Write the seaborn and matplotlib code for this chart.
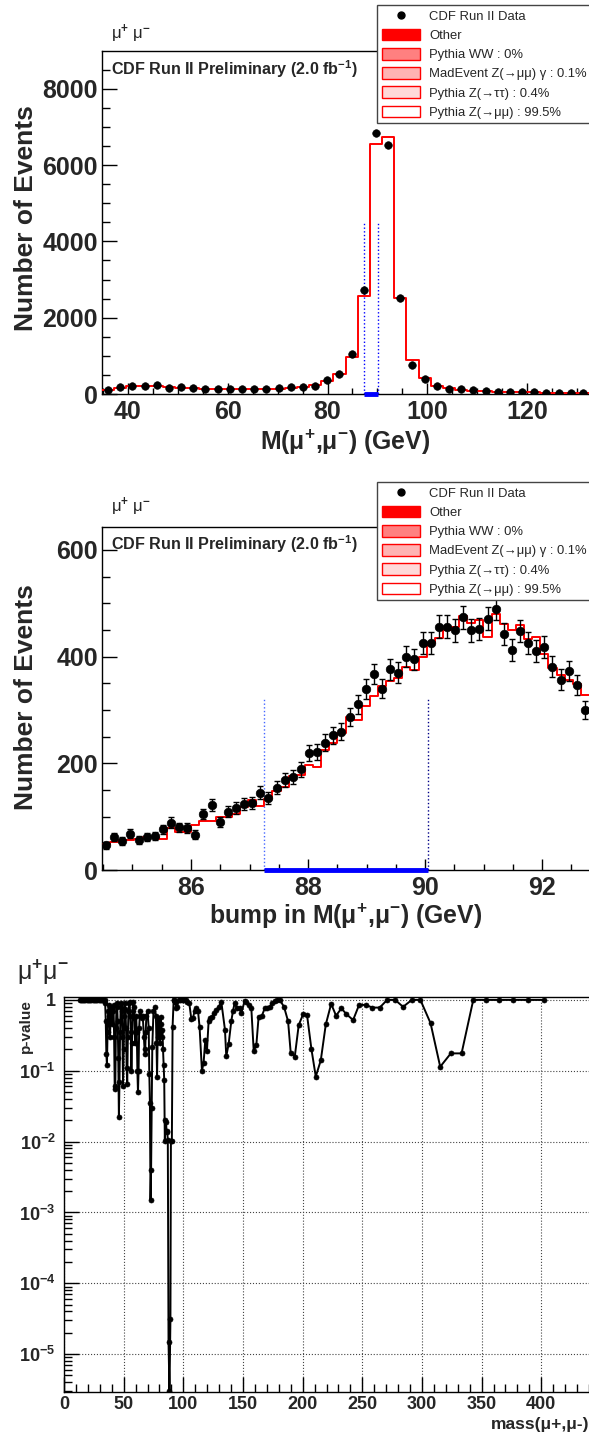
import numpy as np
import pandas as pd
import matplotlib
matplotlib.use("Agg")
import matplotlib.pyplot as plt
import seaborn as sns
from matplotlib.lines import Line2D
from matplotlib.patches import Patch
from matplotlib.ticker import MultipleLocator, FixedLocator, LogLocator, NullFormatter

# ---------------------------------------------------------------- data
# Full dimuon mass spectrum: 40 bins between 34.8 and 132.4 GeV
full_range = (34.8, 132.4)
full_nbins = 40
full_data = [113, 175, 218, 218, 236, 157, 183, 166, 140, 140,
             122, 131, 131, 122, 148, 175, 183, 218, 358, 524,
             1056, 2715, 6853, 6539, 2523, 768, 393, 201, 140, 122,
             96, 70, 61, 52, 44, 44, 35, 35, 26, 26]
full_mc = [100, 170, 200, 205, 200, 180, 170, 155, 140, 130,
           120, 118, 120, 125, 140, 160, 190, 240, 332, 524,
           969, 2575, 6556, 6748, 2505, 882, 419, 210, 150, 115,
           90, 72, 60, 50, 44, 40, 35, 32, 28, 25]

# Fine binning around the Z peak: 60 bins between 84.48 and 92.8 GeV
zoom_range = (84.48, 92.8)
zoom_nbins = 60
zoom_data = [46, 62, 54, 68, 57, 62, 64, 76, 89, 80,
             79, 66, 105, 122, 90, 109, 116, 124, 126, 145,
             135, 154, 168, 175, 189, 219, 221, 239, 253, 259,
             286, 311, 339, 367, 340, 376, 370, 400, 395, 425,
             425, 456, 456, 449, 474, 449, 452, 471, 490, 442,
             412, 448, 426, 411, 418, 381, 357, 373, 347, 300]
zoom_mc = [48.7, 51.9, 55.6, 55.6, 58.7, 61.9, 61.9, 58.1, 79.4, 71.9,
           71.9, 84.3, 91.8, 91.8, 100, 100, 105, 117.4, 131, 120,
           134, 148, 156, 176, 178, 197, 194, 225, 239, 257,
           287, 282, 308, 326, 344, 355, 360, 380, 375, 400,
           426, 434, 450, 455, 477, 463, 468, 437, 479, 462,
           449, 459, 433, 436, 405, 379, 366, 356, 348, 328]

# Mass window of the most significant bump
bump_window = (87.25, 90.05)
bump_marker_height_full = 4500
bump_marker_height_zoom = 320

# Bump-hunter scan: p-value against window centre mass
scan_mass = [13, 14, 15, 16, 17, 18, 19, 20, 21, 22, 23, 24, 25, 26, 27, 28, 29, 30,
             31, 32, 33, 34,
             34.5, 35.0, 35.5, 36.0, 36.5, 37.0, 37.5, 38.0, 38.5, 39.0, 39.5, 40.0,
             40.5, 41.0, 41.5, 42.0, 42.5, 43.0, 43.5, 44.0, 44.5, 45.0, 45.5, 46.0,
             46.5, 47.0, 47.5, 48.0, 48.5, 49.0, 49.5, 50.0, 50.5, 51.0, 51.5, 52.0,
             52.5, 53.0, 53.5, 54.0, 54.5, 55.0, 55.5, 56.0, 56.5, 57.0, 57.5, 58.0,
             58.5, 59.0, 59.5, 60.0, 60.5, 61.0, 61.5, 62.0, 62.5, 63.0, 63.5, 64.0,
             65.0, 66.0, 67.0, 67.5, 68.0, 68.5, 69.0, 70.0, 71.0, 71.5, 72.0, 72.5,
             73.0, 73.5, 74.0, 75.0, 76.0, 77.0, 77.5, 78.0, 78.5, 79.0, 80.0, 80.5,
             81.0, 81.5, 82.0, 82.5, 83.0, 83.5, 84.0, 84.5, 85.0, 85.5, 86.0, 86.5,
             87.0, 87.6, 88.4, 89.2, 89.6, 90.4, 91.0, 91.9,
             92.5, 93.3, 94.0, 95.0, 96.0, 97.5, 99.0, 100.5, 102.0, 103.5, 105.0,
             106.7, 108.0, 109.5, 110.9, 112.3, 113.6, 115.6, 117.0, 118.4, 119.8,
             121.2, 122.6, 124.0, 125.8, 127.6, 129.7, 131.8, 134.9, 136.0, 138.0,
             140.2, 141.6, 143.0, 145.0, 147.2, 148.6, 151.4, 152.8, 155.0, 157.0,
             159.0, 161.2, 163.1, 165.9, 168.2, 170.3, 172.4, 174.5, 176.6, 178.7,
             180.8, 184.4, 187.8, 190.0, 193.4, 196.7, 200.4, 203.7, 207.4, 211.0,
             215.2, 219.4, 223.9, 228.0, 232.5, 236.7, 242.3, 247.3, 252.9, 258.5,
             264.6, 270.8, 277.5, 284.2, 291.5, 298.7, 307.2, 315.3, 324.2, 333.2,
             343.0, 353.6, 364.5, 376.5, 388.8, 402.2]
scan_pvalue = [1, 1, 1, 1, 1, 1, 1, 1, 1, 1, 1, 1, 1, 1, 1, 1, 1, 1,
               1, 1, 1, 1,
               0.9, 0.5, 0.17, 0.12, 0.35, 0.7, 0.85, 0.6, 0.3, 0.5, 0.8, 0.75,
               0.45, 0.7, 0.85, 0.3, 0.056, 0.06, 0.4, 0.8, 0.9, 0.5, 0.15, 0.022,
               0.07, 0.35, 0.8, 0.9, 0.7, 0.3, 0.06, 0.2, 0.6, 0.9, 0.75, 0.4,
               0.11, 0.065, 0.3, 0.7, 0.9, 0.95, 0.6, 0.35, 0.1, 0.25, 0.7, 0.95,
               0.8, 0.55, 0.25, 0.35, 0.6, 0.35, 0.1, 0.05, 0.1, 0.4, 0.6, 0.7,
               0.55, 0.6, 0.3, 0.2, 0.17, 0.35, 0.6, 0.7, 0.4, 0.09, 0.035, 0.0015,
               0.004, 0.03, 0.22, 0.7, 0.8, 0.6, 0.25, 0.083, 0.3, 0.55, 0.35, 0.25,
               0.58, 0.45, 0.3, 0.38, 0.2, 0.12, 0.074, 0.0102, 0.02, 0.019, 0.0135, 0.014,
               0.0105, 1.46e-5, 3.0e-6, 3.1e-5, 0.0101, 0.0101, 0.42, 1.0,
               1.0, 0.95, 0.76, 0.8, 1.0, 1.0, 1.0, 1.0, 1.0, 0.95, 0.9,
               0.54, 0.55, 0.7, 0.76, 0.7, 0.42, 0.1, 0.13, 0.27, 0.19,
               0.5, 0.55, 0.58, 0.65, 0.72, 0.8, 0.95, 0.38, 0.16, 0.24,
               0.5, 0.7, 0.9, 0.76, 0.76, 0.65, 0.97, 0.95, 0.85, 0.76,
               0.19, 0.23, 0.58, 0.6, 0.76, 0.78, 0.8, 0.9, 0.98, 1.0,
               1.0, 0.8, 0.5, 0.18, 0.158, 0.44, 0.63, 0.61, 0.2, 0.083,
               0.14, 0.45, 0.88, 0.6, 0.76, 0.63, 0.52, 0.85, 0.85, 0.78,
               0.78, 1.0, 1.0, 0.8, 1.0, 1.0, 0.47, 0.114, 0.176, 0.176,
               1.0, 1.0, 1.0, 1.0, 1.0, 1.0]

legend_labels = ["CDF Run II Data", "Other", "Pythia WW : 0%",
                 "MadEvent Z(\u2192\u03bc\u03bc) \u03b3 : 0.1%",
                 "Pythia Z(\u2192\u03c4\u03c4) : 0.4%",
                 "Pythia Z(\u2192\u03bc\u03bc) : 99.5%"]
legend_fills = ["#ff0000", "#ff8080", "#ffb3b3", "#ffd9d9", "#ffffff"]

pvalue_ticks = [1e-5, 1e-4, 1e-3, 1e-2, 1e-1, 1]
pvalue_ticklabels = [r"$\mathbf{10^{-5}}$", r"$\mathbf{10^{-4}}$", r"$\mathbf{10^{-3}}$",
                     r"$\mathbf{10^{-2}}$", r"$\mathbf{10^{-1}}$", "1"]

# ---------------------------------------------------------------- style
sns.set_style("ticks")
plt.rcParams["font.family"] = ["Liberation Sans", "DejaVu Sans"]
plt.rcParams["font.weight"] = "bold"
plt.rcParams["mathtext.fontset"] = "custom"
plt.rcParams["mathtext.rm"] = "Liberation Sans"
plt.rcParams["mathtext.bf"] = "Liberation Sans:bold"
plt.rcParams["mathtext.it"] = "Liberation Sans:italic"
plt.rcParams["mathtext.sf"] = "Liberation Sans"

W, H = 589, 1437
fig = plt.figure(figsize=(W / 100, H / 100), dpi=100)


def fxy(x, y):
    return x / W, 1 - y / H


def rect(left, top, right, bottom):
    return [left / W, 1 - bottom / H, (right - left) / W, (bottom - top) / H]


def frame(ax):
    for side in ("left", "bottom", "top"):
        ax.spines[side].set_color("black")
        ax.spines[side].set_linewidth(1.0)
    ax.spines["right"].set_visible(False)


def add_legend(ax, top_px):
    handles = [Line2D([], [], marker="o", color="black", linestyle="none", markersize=5)]
    for fc in legend_fills:
        handles.append(Patch(facecolor=fc, edgecolor="red", linewidth=1.0))
    # the box runs past the right edge of the canvas
    x0, y0 = fxy(377, top_px)
    leg = ax.legend(handles, legend_labels, loc="upper left", mode="expand",
                    bbox_to_anchor=(x0, y0, 230 / W, 0), bbox_transform=fig.transFigure,
                    frameon=True, fancybox=False, framealpha=1, edgecolor="#444444",
                    prop={"size": 9.4, "weight": "normal"},
                    handlelength=2.95, handleheight=1.0, handletextpad=0.7,
                    labelspacing=0.45, borderpad=0.35, borderaxespad=0)
    leg.get_frame().set_linewidth(1.0)
    leg.set_zorder(20)
    return leg


def hist_panel(ax, lo, hi, nbins, data, mc, with_errors):
    edges = np.linspace(lo, hi, nbins + 1)
    centers = 0.5 * (edges[:-1] + edges[1:])
    table = pd.DataFrame({"mass": centers, "mc": mc, "data": data})
    sns.histplot(data=table, x="mass", weights="mc", bins=edges.tolist(), element="step",
                 fill=False, color="red", linewidth=1.4, ax=ax, zorder=3)
    if with_errors:
        ax.errorbar(table["mass"], table["data"], yerr=np.sqrt(table["data"]), fmt="none",
                    ecolor="black", elinewidth=1.0, capsize=2.0, capthick=1.0, zorder=4)
        sns.scatterplot(data=table, x="mass", y="data", color="black", edgecolor="black",
                        s=38, ax=ax, zorder=5)
    else:
        sns.scatterplot(data=table, x="mass", y="data", color="black", edgecolor="black",
                        s=30, ax=ax, zorder=5)
    ax.set_xlim(lo, hi)
    ax.set_xlabel("")
    ax.set_ylabel("")
    frame(ax)


def style_counts_axis(ax):
    ax.tick_params(axis="both", which="both", direction="in", labelsize=18, width=1, color="black")
    ax.tick_params(axis="y", which="major", length=11, pad=3)
    ax.tick_params(axis="y", which="minor", length=6)
    ax.tick_params(axis="x", which="major", length=8, pad=4)
    ax.tick_params(axis="x", which="minor", length=4.5)
    ax.tick_params(top=False, right=False, which="both")


mu_pair = "\u03bc$^{+}$ \u03bc$^{-}$"
cdf_tag = r"CDF Run II Preliminary (2.0 fb$^{\mathbf{-1}}$)"
mass_label = "M(\u03bc$^{\\mathbf{+}}$,\u03bc$^{\\mathbf{-}}$) (GeV)"

# ---------------------------------------------------------------- panel 1
ax1 = fig.add_axes(rect(102, 51, 589, 394))
hist_panel(ax1, *full_range, full_nbins, full_data, full_mc, with_errors=False)
ax1.set_ylim(0, 8990)
for xv in bump_window:
    ax1.vlines(xv, 0, bump_marker_height_full, colors="blue", linestyles=":", linewidth=1.0, zorder=2)
ax1.plot(bump_window, [0, 0], color="blue", linewidth=3.5, solid_capstyle="butt",
         clip_on=False, zorder=6)
ax1.xaxis.set_major_locator(MultipleLocator(20))
ax1.xaxis.set_minor_locator(MultipleLocator(5))
ax1.yaxis.set_major_locator(MultipleLocator(2000))
ax1.yaxis.set_minor_locator(MultipleLocator(500))
style_counts_axis(ax1)
ax1.set_ylabel("Number of Events", fontsize=19, fontweight="bold")
ax1.yaxis.set_label_coords(-0.1314, 0.513)
ax1.set_xlabel(mass_label, fontsize=17.8, fontweight="bold")
ax1.xaxis.set_label_coords(0.5, -0.099)
add_legend(ax1, 5)
fig.text(*fxy(111, 34), mu_pair, fontsize=12, fontweight="normal", va="center", ha="left")
fig.text(*fxy(111, 69), cdf_tag, fontsize=11.6, fontweight="bold", va="center", ha="left")

# ---------------------------------------------------------------- panel 2
ax2 = fig.add_axes(rect(102, 527, 589, 870))
hist_panel(ax2, *zoom_range, zoom_nbins, zoom_data, zoom_mc, with_errors=True)
ax2.set_ylim(0, 643)
ax2.vlines(bump_window[0], 0, bump_marker_height_zoom, colors="#4466ff", linestyles=":", linewidth=1.0, zorder=2)
ax2.vlines(bump_window[1], 0, bump_marker_height_zoom, colors="#000088", linestyles=":", linewidth=1.0, zorder=2)
ax2.plot(bump_window, [0, 0], color="blue", linewidth=3.5, solid_capstyle="butt",
         clip_on=False, zorder=6)
ax2.xaxis.set_major_locator(MultipleLocator(2))
ax2.xaxis.set_minor_locator(MultipleLocator(0.5))
ax2.yaxis.set_major_locator(MultipleLocator(200))
ax2.yaxis.set_minor_locator(MultipleLocator(50))
style_counts_axis(ax2)
ax2.set_ylabel("Number of Events", fontsize=19, fontweight="bold")
ax2.yaxis.set_label_coords(-0.1314, 0.503)
ax2.set_xlabel("bump in " + mass_label, fontsize=17.8, fontweight="bold")
ax2.xaxis.set_label_coords(0.5, -0.093)
add_legend(ax2, 482)
fig.text(*fxy(111, 507), mu_pair, fontsize=12, fontweight="normal", va="center", ha="left")
fig.text(*fxy(111, 544), cdf_tag, fontsize=11.6, fontweight="bold", va="center", ha="left")

# ---------------------------------------------------------------- panel 3
ax3 = fig.add_axes(rect(64, 997, 589, 1391.7))
scan = pd.DataFrame({"mass": scan_mass, "pvalue": scan_pvalue})
sns.lineplot(data=scan, x="mass", y="pvalue", estimator=None, sort=False, color="black",
             linewidth=1.4, marker="o", markersize=3.6, markeredgecolor="black",
             markeredgewidth=0.5, ax=ax3, zorder=4)
ax3.set_yscale("log")
ax3.set_xlim(0, 440)
ax3.set_ylim(2.95e-6, 1.1)
ax3.xaxis.set_major_locator(MultipleLocator(50))
ax3.xaxis.set_minor_locator(MultipleLocator(10))
ax3.yaxis.set_major_locator(FixedLocator(pvalue_ticks))
ax3.set_yticklabels(pvalue_ticklabels)
ax3.yaxis.set_minor_locator(LogLocator(base=10, subs=np.arange(2, 10)))
ax3.yaxis.set_minor_formatter(NullFormatter())
ax3.grid(True, which="major", linestyle=":", color="#444444", linewidth=0.8)
ax3.tick_params(axis="both", which="both", direction="in", labelsize=13, width=1, color="black")
ax3.tick_params(axis="x", which="major", length=11, pad=3)
ax3.tick_params(axis="x", which="minor", length=6)
ax3.tick_params(axis="y", which="major", length=11, pad=6)
ax3.tick_params(axis="y", which="minor", length=6)
ax3.tick_params(top=False, right=False, which="both")
ax3.set_xlabel("")
ax3.set_ylabel("")
frame(ax3)
fig.text(*fxy(17, 972), "\u03bc$^{+}$\u03bc$^{-}$", fontsize=18, fontweight="normal", va="center", ha="left")
fig.text(*fxy(26, 999), "p-value", fontsize=11, fontweight="bold", rotation=90, va="top", ha="center")
fig.text(*fxy(589, 1424), "mass(\u03bc+,\u03bc-)", fontsize=12.5, fontweight="bold", va="center", ha="right")

fig.savefig("out.png", dpi=100)
